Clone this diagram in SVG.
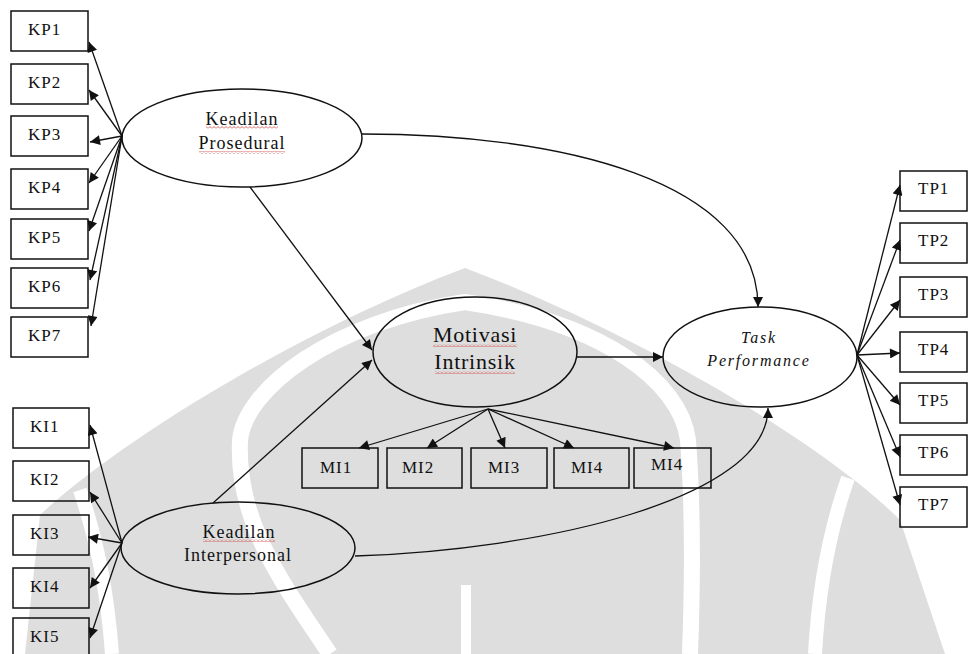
<svg xmlns="http://www.w3.org/2000/svg" width="968" height="654" viewBox="0 0 968 654">
<defs>
<style>
.box{fill:none;stroke:#111;stroke-width:1.5}
.ell{fill:none;stroke:#111;stroke-width:1.5}
.lbl{font-family:"Liberation Serif","Times New Roman",serif;font-size:17px;fill:#111;letter-spacing:1px}
.lat{font-family:"Liberation Serif","Times New Roman",serif;font-size:18px;fill:#111;letter-spacing:1px;text-anchor:middle}
.mot{font-family:"Liberation Serif","Times New Roman",serif;font-size:22px;fill:#111;letter-spacing:0.75px;text-anchor:middle}
.task{font-family:"Liberation Serif","Times New Roman",serif;font-size:16px;font-style:italic;fill:#111;letter-spacing:1.8px;text-anchor:middle}
.c{fill:none;stroke:#111;stroke-width:1.3;marker-end:url(#ah)}
.wm{fill:#dedede}
.wb{fill:none;stroke:#fff}
</style>
<marker id="ah" viewBox="0 0 10 10" refX="10" refY="5" markerWidth="12" markerHeight="10" orient="auto" markerUnits="userSpaceOnUse">
<path d="M0,0 L10,5 L0,10 z" fill="#111"/>
</marker>
<pattern id="sq" width="4" height="3" patternUnits="userSpaceOnUse">
<path d="M0,2.5 L2,0.5 L4,2.5" stroke="#d04040" stroke-width="0.8" fill="none"/>
</pattern>
</defs>
<rect width="968" height="654" fill="#fff"/>
<g id="watermark">
<path class="wm" d="M25,654 L40,515 C120,440 300,330 465,268 C630,330 820,440 900,520 L945,654 Z"/>
<path class="wb" stroke-width="16" d="M330,654 C280,580 236,520 240,440 C245,390 330,322 465,302 C600,322 680,380 688,440 C694,520 692,600 690,654"/>
<path class="wb" stroke-width="14" d="M112,654 C108,600 100,550 80,490"/>
<path class="wb" stroke-width="14" d="M815,654 C818,600 826,540 848,478"/>
<path class="wb" stroke-width="10" d="M466,654 L466,585"/>
</g>
<g id="connectors">
<path class="c" d="M122,136 L89,42"/>
<path class="c" d="M122,136 L89,90"/>
<path class="c" d="M122,136 L90,142"/>
<path class="c" d="M122,136 L89,183"/>
<path class="c" d="M122,136 L89,231"/>
<path class="c" d="M122,136 L90,280"/>
<path class="c" d="M122,136 L91,326"/>
<path class="c" d="M122,543 L90,425"/>
<path class="c" d="M122,543 L90,492"/>
<path class="c" d="M122,543 L88,537"/>
<path class="c" d="M122,543 L90,588"/>
<path class="c" d="M122,543 L90,638"/>
<path class="c" d="M857,355 L900,185"/>
<path class="c" d="M857,355 L900,240"/>
<path class="c" d="M857,355 L900,300"/>
<path class="c" d="M857,355 L900,353"/>
<path class="c" d="M857,355 L900,405"/>
<path class="c" d="M857,355 L900,457"/>
<path class="c" d="M857,355 L900,505"/>
<path class="c" d="M250,187 L372,350"/>
<path class="c" d="M213,503 L372,360"/>
<path class="c" d="M577,357 L663,357"/>
<path class="c" d="M488,409 L359,448"/>
<path class="c" d="M488,409 L427,448"/>
<path class="c" d="M488,409 L505,448"/>
<path class="c" d="M488,409 L574,448"/>
<path class="c" d="M488,409 L674,448"/>
<path class="c" d="M362,134 C560,134 758,180 758,307"/>
<path class="c" d="M355,556 C540,550 768,500 768,408"/>
</g>
<g id="kp">
<g id="KP1"><rect class="box" x="11" y="11" width="77" height="40"/><text class="lbl" x="28" y="35">KP1</text></g>
<g id="KP2"><rect class="box" x="11" y="64" width="77" height="40"/><text class="lbl" x="28" y="88">KP2</text></g>
<g id="KP3"><rect class="box" x="11" y="116" width="77" height="40"/><text class="lbl" x="28" y="140">KP3</text></g>
<g id="KP4"><rect class="box" x="11" y="169" width="77" height="40"/><text class="lbl" x="28" y="193">KP4</text></g>
<g id="KP5"><rect class="box" x="11" y="219" width="77" height="40"/><text class="lbl" x="28" y="243">KP5</text></g>
<g id="KP6"><rect class="box" x="11" y="268" width="77" height="40"/><text class="lbl" x="28" y="292">KP6</text></g>
<g id="KP7"><rect class="box" x="11" y="317" width="77" height="40"/><text class="lbl" x="28" y="341">KP7</text></g>
</g>
<g id="ki">
<g id="KI1"><rect class="box" x="13" y="408" width="76" height="40"/><text class="lbl" x="30" y="432">KI1</text></g>
<g id="KI2"><rect class="box" x="13" y="461" width="76" height="40"/><text class="lbl" x="30" y="485">KI2</text></g>
<g id="KI3"><rect class="box" x="13" y="515" width="76" height="40"/><text class="lbl" x="30" y="539">KI3</text></g>
<g id="KI4"><rect class="box" x="13" y="568" width="76" height="40"/><text class="lbl" x="30" y="592">KI4</text></g>
<g id="KI5"><rect class="box" x="13" y="618" width="76" height="40"/><text class="lbl" x="30" y="642">KI5</text></g>
</g>
<g id="tp">
<g id="TP1"><rect class="box" x="900" y="171" width="67" height="40"/><text class="lbl" x="918" y="194">TP1</text></g>
<g id="TP2"><rect class="box" x="900" y="223" width="67" height="40"/><text class="lbl" x="918" y="246">TP2</text></g>
<g id="TP3"><rect class="box" x="900" y="277" width="67" height="40"/><text class="lbl" x="918" y="300">TP3</text></g>
<g id="TP4"><rect class="box" x="900" y="332" width="67" height="40"/><text class="lbl" x="918" y="355">TP4</text></g>
<g id="TP5"><rect class="box" x="900" y="383" width="67" height="40"/><text class="lbl" x="918" y="406">TP5</text></g>
<g id="TP6"><rect class="box" x="900" y="435" width="67" height="40"/><text class="lbl" x="918" y="458">TP6</text></g>
<g id="TP7"><rect class="box" x="900" y="487" width="67" height="40"/><text class="lbl" x="918" y="510">TP7</text></g>
</g>
<g id="mi">
<g id="MI1"><rect class="box" x="302" y="448" width="76" height="40"/><text class="lbl" x="320" y="473">MI1</text></g>
<g id="MI2"><rect class="box" x="387" y="448" width="75" height="40"/><text class="lbl" x="402" y="473">MI2</text></g>
<g id="MI3"><rect class="box" x="471" y="448" width="76" height="40"/><text class="lbl" x="488" y="473">MI3</text></g>
<g id="MI4a"><rect class="box" x="554" y="448" width="75" height="40"/><text class="lbl" x="571" y="473">MI4</text></g>
<g id="MI4b"><rect class="box" x="634" y="448" width="77" height="40"/><text class="lbl" x="651" y="470">MI4</text></g>
</g>
<g id="keadilan-prosedural">
<ellipse class="ell" cx="242" cy="138" rx="120" ry="49"/>
<text class="lat" x="242" y="125">Keadilan</text>
<text class="lat" x="242" y="149">Prosedural</text>
<rect x="206" y="126" width="72" height="3" fill="url(#sq)"/>
<rect x="199" y="151" width="86" height="3" fill="url(#sq)"/>
</g>
<g id="keadilan-interpersonal">
<ellipse class="ell" cx="238" cy="548" rx="117" ry="46"/>
<text class="lat" x="239" y="538">Keadilan</text>
<text class="lat" x="238" y="561">Interpersonal</text>
<rect x="203" y="539" width="72" height="3" fill="url(#sq)"/>
</g>
<g id="motivasi-intrinsik">
<ellipse class="ell" cx="475" cy="352" rx="102" ry="55"/>
<text class="mot" x="475" y="342">Motivasi</text>
<text class="mot" x="475" y="369">Intrinsik</text>
<rect x="433" y="344" width="84" height="3" fill="url(#sq)"/>
<rect x="435" y="371" width="80" height="3" fill="url(#sq)"/>
</g>
<g id="task-performance">
<ellipse class="ell" cx="760" cy="357" rx="97" ry="50"/>
<text class="task" x="759" y="343">Task</text>
<text class="task" x="759" y="366">Performance</text>
</g>
</svg>
